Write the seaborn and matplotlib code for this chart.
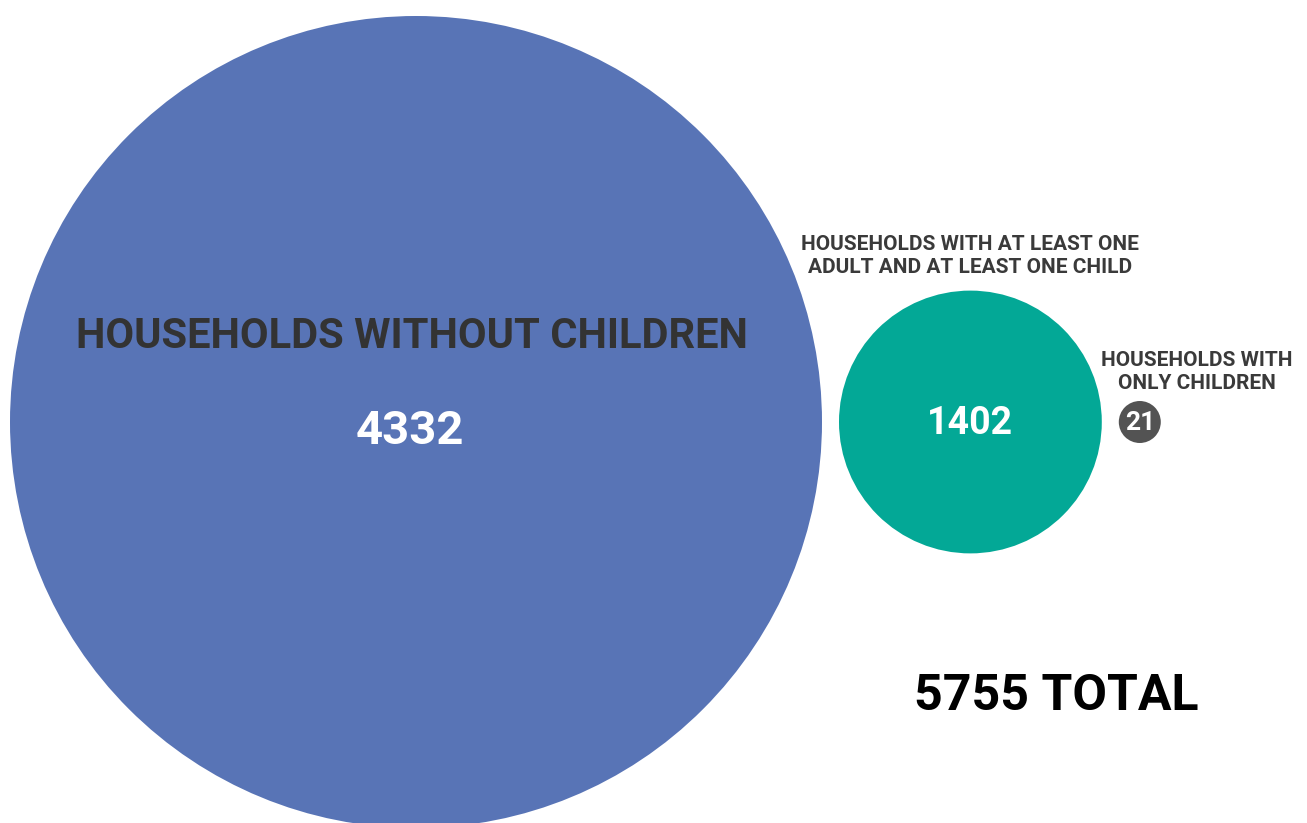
import matplotlib
matplotlib.use("Agg")
import matplotlib.pyplot as plt
import seaborn as sns
import pandas as pd

sns.set_theme(style="white")
plt.rcParams["font.family"] = ["Roboto", "DejaVu Sans"]

# --- Daten -------------------------------------------------------------
groups = ["HOUSEHOLDS WITHOUT CHILDREN",
          "HOUSEHOLDS WITH AT LEAST ONE\nADULT AND AT LEAST ONE CHILD",
          "HOUSEHOLDS WITH\nONLY CHILDREN"]
counts = [4332, 1402, 21]
colors = ["#5874b6", "#03a896", "#535353"]

W, H, DPI = 1307, 823, 100
PX_PER_UNIT = 406 / 4332   # Radius proportional zum Wert
MIN_R = 21
GAP = 17

radii = [max(c * PX_PER_UNIT, MIN_R) for c in counts]
xs = []
x = 10
for r in radii:
    xs.append(x + r)
    x += 2 * r + GAP
ys = [422] * len(counts)

df = pd.DataFrame({"group": groups, "count": counts, "x": xs, "y": ys})
pt_per_px = 72 / DPI
sizes = {g: (2 * r * pt_per_px) ** 2 for g, r in zip(groups, radii)}

fig = plt.figure(figsize=(W / DPI, H / DPI), dpi=DPI)
ax = fig.add_axes([0, 0, 1, 1])
sns.scatterplot(data=df, x="x", y="y", hue="group", size="group",
                palette=dict(zip(groups, colors)), sizes=sizes,
                linewidth=0, legend=False, ax=ax)
ax.set_xlim(0, W)
ax.set_ylim(H, 0)
ax.set_axis_off()

# --- Beschriftungen ----------------------------------------------------
big, mid, small = df.iloc[0], df.iloc[1], df.iloc[2]
ax.text(big.x - 4, 336, big.group, ha="center", va="center",
        fontsize=30, fontweight="bold", color="#333333")
ax.text(big.x - 6, 431, f"{big['count']}", ha="center", va="center",
        fontsize=34, fontweight="bold", color="white")

ax.text(mid.x, 256, mid.group, ha="center", va="center", linespacing=1.3,
        fontsize=15, fontweight="bold", color="#3a3a3a")
ax.text(mid.x, 423, f"{mid['count']}", ha="center", va="center",
        fontsize=27, fontweight="bold", color="white")

ax.text(1197, 372, small.group, ha="center", va="center", linespacing=1.3,
        fontsize=15, fontweight="bold", color="#3a3a3a")
ax.text(small.x, 423, f"{small['count']}", ha="center", va="center",
        fontsize=19, fontweight="bold", color="white")

ax.text(1056, 697, f"{sum(counts)} TOTAL", ha="center", va="center",
        fontsize=36, fontweight="bold", color="black")

fig.savefig("out.png", dpi=DPI)
